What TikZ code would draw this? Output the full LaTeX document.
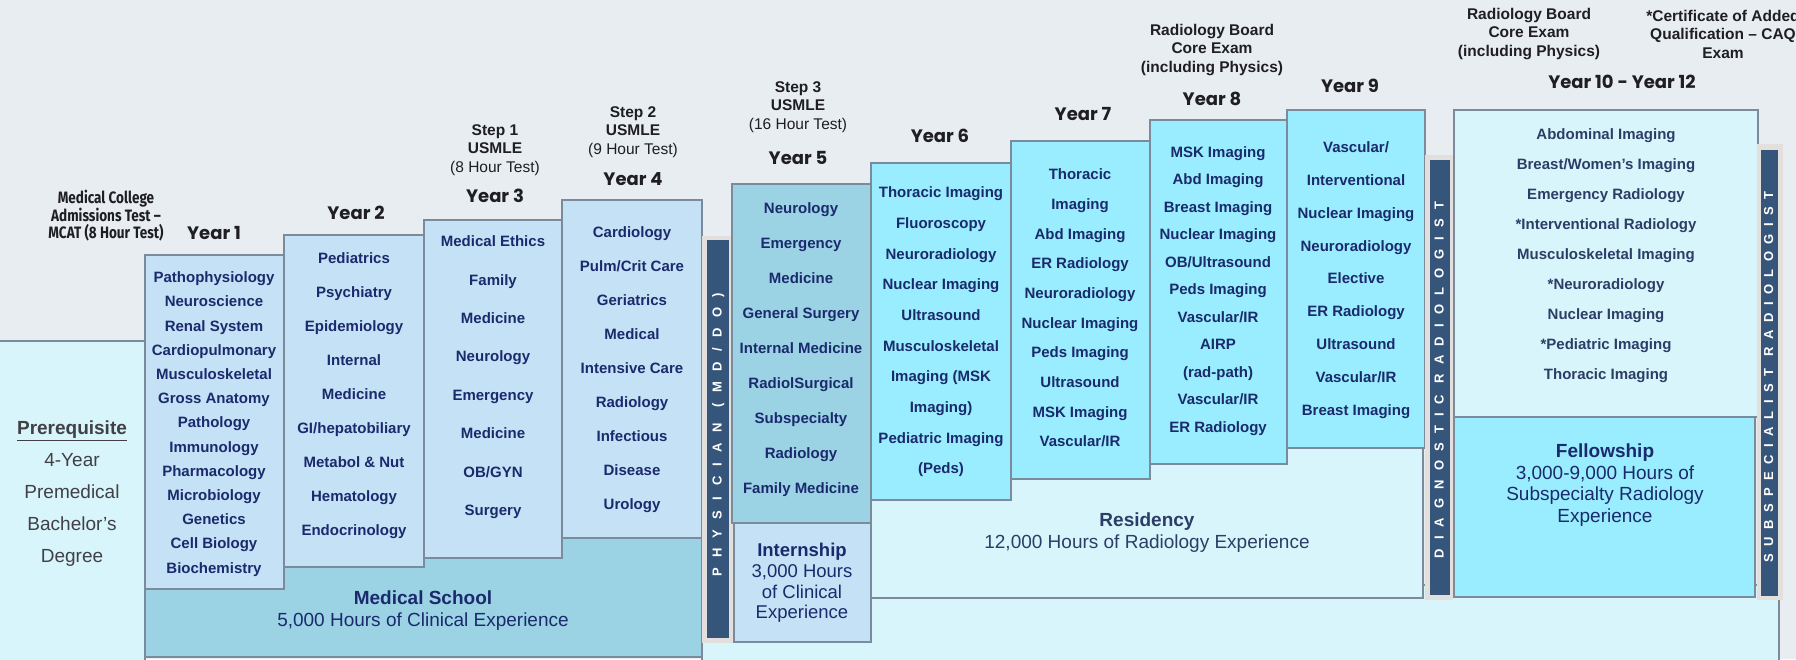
\documentclass[tikz,border=0pt]{standalone}
\usepackage{fontspec}
\setmainfont{Liberation Sans}
\newfontfamily\yearfont{Poppins}
\newfontfamily\mcatfont{Fira Sans}[FakeStretch=0.82]

\definecolor{bgray}{HTML}{E8EDF1}
\definecolor{edge}{HTML}{7A8B9B}
\definecolor{paleblue}{HTML}{C5E1F6}
\definecolor{midblue}{HTML}{9BD3E5}
\definecolor{palecyan}{HTML}{D8F5FB}
\definecolor{brightcyan}{HTML}{99EDFE}
\definecolor{barblue}{HTML}{36557A}
\definecolor{barrim}{HTML}{E3DFDD}
\definecolor{navy}{HTML}{1A2A6C}
\definecolor{slate}{HTML}{2C3D66}
\definecolor{ink}{HTML}{1E1E24}

\begin{document}
\begin{tikzpicture}[x=1pt,y=-1pt,
  box/.style={draw=edge, line width=2.7pt},
  item/.style={font=\bfseries\fontsize{15}{18}\selectfont, text=navy, inner sep=0pt, text height=0.85em, text depth=0.13em},
  year/.style={font=\yearfont\bfseries\fontsize{18}{20}\selectfont, text=ink, inner sep=0pt, text height=0.9em, text depth=0.2em},
  exam/.style={font=\bfseries\fontsize{15.5}{18.5}\selectfont, text=ink, align=center, inner sep=0pt},
  big/.style={font=\fontsize{19}{22}\selectfont, text=navy, align=center, inner sep=0pt},
  bartext/.style={rotate=90, text=white, inner sep=0pt, text height=0.72em, text depth=0pt}]
% page and background
\useasboundingbox (0,0) rectangle (1796,659);
\fill[bgray] (0,0) rectangle (1796,659);
\draw[box, fill=palecyan] (702,585) rectangle (1779,675);

% medical school part
\draw[box, fill=palecyan] (-3,341) rectangle (145,675);
\draw[box, fill=midblue] (145,538) rectangle (702,657);
\draw[box, fill=paleblue] (145,255) rectangle (284,589);
\draw[box, fill=paleblue] (284,235) rectangle (424,567);
\draw[box, fill=paleblue] (424,220) rectangle (562,558);
\draw[box, fill=paleblue] (562,200) rectangle (702,538);

% physician bar
\fill[barrim] (702,236) rectangle (733,643);
\fill[barblue] (707,240) rectangle (729,638);

% internship part
\draw[box, fill=midblue] (732,184) rectangle (871,523);
\draw[box, fill=paleblue] (734,523) rectangle (871,642);

% residency part
\draw[box, fill=palecyan] (871,440) rectangle (1423,598);
\draw[box, fill=brightcyan] (871,163) rectangle (1011,500);
\draw[box, fill=brightcyan] (1011,141) rectangle (1150,479);
\draw[box, fill=brightcyan] (1150,120) rectangle (1287,464);
\draw[box, fill=brightcyan] (1287,110) rectangle (1425,448);

% diagnostic radiologist bar
\fill[barrim] (1425,155) rectangle (1453,600);
\fill[barblue] (1430,160) rectangle (1450,595);

% fellowship part
\draw[box, fill=palecyan] (1454,110) rectangle (1758,417);
\draw[box, fill=brightcyan] (1454,417) rectangle (1755,597);

% subspecialist radiologist bar
\fill[barrim] (1757,144) rectangle (1783,600);
\fill[barblue] (1761,150) rectangle (1778,596);

% exams above the years
\node[font=\mcatfont\bfseries\fontsize{16.5}{17.5}\selectfont, text=ink, align=center, inner sep=0pt] (mcat) at (106,216) {Medical College\\Admissions Test –\\MCAT (8 Hour Test)};
\node[exam] (step1) at (495,150) {Step 1\\USMLE\\\mdseries(8 Hour Test)};
\node[exam] (step2) at (633,132) {Step 2\\USMLE\\\mdseries(9 Hour Test)};
\node[exam] (step3) at (798,107) {Step 3\\USMLE\\\mdseries(16 Hour Test)};
\node[exam] (board1) at (1212,50) {Radiology Board\\Core Exam\\(including Physics)};
\node[exam] (board2) at (1529,34) {Radiology Board\\Core Exam\\(including Physics)};
\node[exam] (caq) at (1723,34) {*Certificate of Added\\Qualification – CAQ\\Exam};

% year titles
\node[year] (year1) at (214,236) {Year 1};
\node[year] (year2) at (356,216) {Year 2};
\node[year] (year3) at (495,199) {Year 3};
\node[year] (year4) at (633,182) {Year 4};
\node[year] (year5) at (798,161) {Year 5};
\node[year] (year6) at (940,139) {Year 6};
\node[year] (year7) at (1083,117) {Year 7};
\node[year] (year8) at (1212,102) {Year 8};
\node[year] (year9) at (1350,89) {Year 9};
\node[year] (year10) at (1622,85) {Year 10 - Year 12};

% subjects of each year
\foreach \t [count=\i] in {Pathophysiology,Neuroscience,Renal System,Cardiopulmonary,Musculoskeletal,Gross Anatomy,Pathology,Immunology,Pharmacology,Microbiology,Genetics,Cell Biology,Biochemistry}
  \node[item] (yrA-\i) at (214,{279+24.2*(\i-1)}) {\t};
\foreach \t [count=\i] in {Pediatrics,Psychiatry,Epidemiology,Internal,Medicine,GI/hepatobiliary,Metabol \& Nut,Hematology,Endocrinology}
  \node[item] (yrB-\i) at (354,{260+34*(\i-1)}) {\t};
\foreach \t [count=\i] in {Medical Ethics,Family,Medicine,Neurology,Emergency,Medicine,OB/GYN,Surgery}
  \node[item] (yrC-\i) at (493,{243+38.4*(\i-1)}) {\t};
\foreach \t [count=\i] in {Cardiology,Pulm/Crit Care,Geriatrics,Medical,Intensive Care,Radiology,Infectious,Disease,Urology}
  \node[item] (yrD-\i) at (632,{234+34*(\i-1)}) {\t};
\foreach \t [count=\i] in {Neurology,Emergency,Medicine,General Surgery,Internal Medicine,RadiolSurgical,Subspecialty,Radiology,Family Medicine}
  \node[item] (yrE-\i) at (801,{210+35*(\i-1)}) {\t};
\foreach \t [count=\i] in {Thoracic Imaging,Fluoroscopy,Neuroradiology,Nuclear Imaging,Ultrasound,Musculoskeletal,{Imaging (MSK},{Imaging)},Pediatric Imaging,{(Peds)}}
  \node[item] (yrF-\i) at (941,{194+30.7*(\i-1)}) {\t};
\foreach \t [count=\i] in {Thoracic,Imaging,Abd Imaging,ER Radiology,Neuroradiology,Nuclear Imaging,Peds Imaging,Ultrasound,MSK Imaging,Vascular/IR}
  \node[item] (yrG-\i) at (1080,{176+29.7*(\i-1)}) {\t};
\foreach \t [count=\i] in {MSK Imaging,Abd Imaging,Breast Imaging,Nuclear Imaging,OB/Ultrasound,Peds Imaging,Vascular/IR,AIRP,{(rad-path)},Vascular/IR,ER Radiology}
  \node[item] (yrH-\i) at (1218,{153.5+27.5*(\i-1)}) {\t};
\foreach \t [count=\i] in {Vascular/,Interventional,Nuclear Imaging,Neuroradiology,Elective,ER Radiology,Ultrasound,Vascular/IR,Breast Imaging}
  \node[item] (yrI-\i) at (1356,{149+32.8*(\i-1)}) {\t};
\foreach \t [count=\i] in {Abdominal Imaging,Breast/Women’s Imaging,Emergency Radiology,*Interventional Radiology,Musculoskeletal Imaging,*Neuroradiology,Nuclear Imaging,*Pediatric Imaging,Thoracic Imaging}
  \node[item, text=slate] (yrJ-\i) at (1606,{136+30*(\i-1)}) {\t};

% captions of the big boxes
\node[font=\fontsize{19}{32}\selectfont, text=ink!85, align=center, inner sep=0pt] (prereq) at (72,494) {\textbf{\underline{Prerequisite}}\\4-Year\\Premedical\\Bachelor’s\\Degree};
\node[big] (medschool) at (423,611) {\textbf{Medical School}\\5,000 Hours of Clinical Experience};
\node[big, font=\fontsize{18.5}{20.7}\selectfont] (internship) at (802,583) {\textbf{Internship}\\3,000 Hours\\of Clinical\\Experience};
\node[big, text=slate] (residency) at (1147,533) {\textbf{Residency}\\12,000 Hours of Radiology Experience};
\node[big, font=\fontsize{19}{21.7}\selectfont] (fellowship) at (1605,485) {\textbf{Fellowship}\\3,000-9,000 Hours of\\Subspecialty Radiology\\Experience};

% vertical titles
\node[bartext, font=\bfseries\fontsize{13}{13}\selectfont\addfontfeature{LetterSpace=80}] (physician) at (718,435) {PHYSICIAN\hspace{1.2em}(MD/DO)};
\node[bartext, font=\bfseries\fontsize{13}{13}\selectfont\addfontfeature{LetterSpace=70}] (diagnostic) at (1440,380) {DIAGNOSTIC\hspace{0.9em}RADIOLOGIST};
\node[bartext, font=\bfseries\fontsize{13}{13}\selectfont\addfontfeature{LetterSpace=58}] (subspecialist) at (1769.5,377) {SUBSPECIALIST\hspace{0.9em}RADIOLOGIST};
\end{tikzpicture}
\end{document}
